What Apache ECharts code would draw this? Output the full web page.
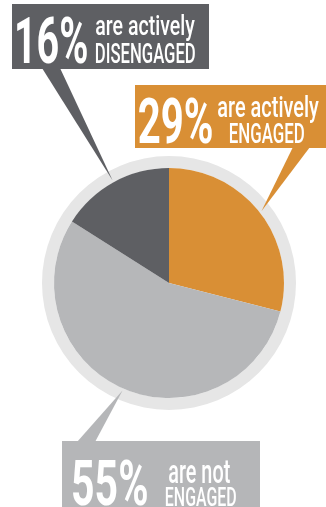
<!DOCTYPE html>
<html>
<head>
<meta charset="utf-8">
<script src="https://cdn.jsdelivr.net/npm/echarts@6/dist/echarts.min.js"></script>
<style>
html,body{margin:0;padding:0;background:#fff;}
#chart{width:326px;height:507px;}
</style>
</head>
<body>
<div id="chart"></div>
<script>
// ---- data ----
const categories = ['are actively ENGAGED', 'are not ENGAGED', 'are actively DISENGAGED'];
const values = [29, 55, 16];
const labelLine1 = ['are actively', 'are not', 'are actively'];
const labelLine2 = ['ENGAGED', 'ENGAGED', 'DISENGAGED'];

// ---- style / layout ----
const sliceColors = ['#d98f35', '#b6b7b9', '#5e5f63'];
const boxColors = ['#d98f35', '#b5b6b8', '#5e5f63'];
const CX = 169, CY = 283, R = 115, RING = 127;
const boxes = [
  {x:135, y:85, w:191, h:63, base:[293,310,147],
   big:[139,212,97,143], l1:[218,319,95,117], l2:[230,304,123,143]},
  {x:62, y:441, w:198, h:66, base:[77,95,442],
   big:[73,147,459,505], l1:[169,230,461,483], l2:[166,236,487,506]},
  {x:12, y:4, w:197, h:65, base:[42,60,68],
   big:[17,87,15,63], l1:[96,195,14,35], l2:[96,195,43,63]}
];

const ctx = document.createElement('canvas').getContext('2d');
function fitText(text, font, box) {
  const [L, Rr, T, B] = box;
  ctx.font = font; ctx.textBaseline = 'middle'; ctx.textAlign = 'left';
  const m = ctx.measureText(text);
  const h = ctx.measureText('H');
  const asc = m.actualBoundingBoxAscent;
  const bo = h.actualBoundingBoxDescent;
  const abl = m.actualBoundingBoxLeft, abr = m.actualBoundingBoxRight;
  const sx = (Rr - L) / (abl + abr);
  const sy = (B - T) / (asc + bo);
  return {
    type: 'text', x: L + abl * sx, y: T + asc * sy, scaleX: sx, scaleY: sy, z: 110,
    style: {text: text, font: font, fill: '#ffffff', align: 'left', verticalAlign: 'middle',
            textAlign: 'left', textVerticalAlign: 'middle'}
  };
}

const total = values.reduce((a, b) => a + b, 0);
const graphics = [];
let cum = 0;
values.forEach((v, i) => {
  const mid = (cum + v / 2) / total * Math.PI * 2;
  cum += v;
  const b = boxes[i];
  const tipR = 117;
  const tx = CX + tipR * Math.sin(mid), ty = CY - tipR * Math.cos(mid);
  graphics.push({type: 'polygon', z: 100,
    shape: {points: [[b.base[0], b.base[2]], [b.base[1], b.base[2]], [tx, ty]]},
    style: {fill: boxColors[i]}});
  graphics.push({type: 'rect', z: 101, shape: {x: b.x, y: b.y, width: b.w, height: b.h},
    style: {fill: boxColors[i]}});
  graphics.push(fitText(v + '%', '700 64px Roboto', b.big));
  graphics.push(fitText(labelLine1[i], '500 28px Roboto', b.l1));
  graphics.push(fitText(labelLine2[i], '500 28px Roboto', b.l2));
});

const chart = echarts.init(document.getElementById('chart'), null, {renderer: 'canvas'});
chart.setOption({
  backgroundColor: '#ffffff',
  animation: false,
  series: [
    {
      type: 'pie', silent: true, center: [CX, CY], radius: [R, RING], z: 1,
      label: {show: false}, labelLine: {show: false},
      data: [{value: 1, name: 'ring', itemStyle: {color: '#e6e6e6'}}]
    },
    {
      type: 'pie', silent: true, center: [CX, CY], radius: [0, R], z: 2,
      startAngle: 90, clockwise: true,
      label: {show: false}, labelLine: {show: false},
      itemStyle: {borderWidth: 0},
      data: categories.map((c, i) => ({name: c, value: values[i], itemStyle: {color: sliceColors[i]}}))
    }
  ],
  graphic: graphics
});
</script>
</body>
</html>
